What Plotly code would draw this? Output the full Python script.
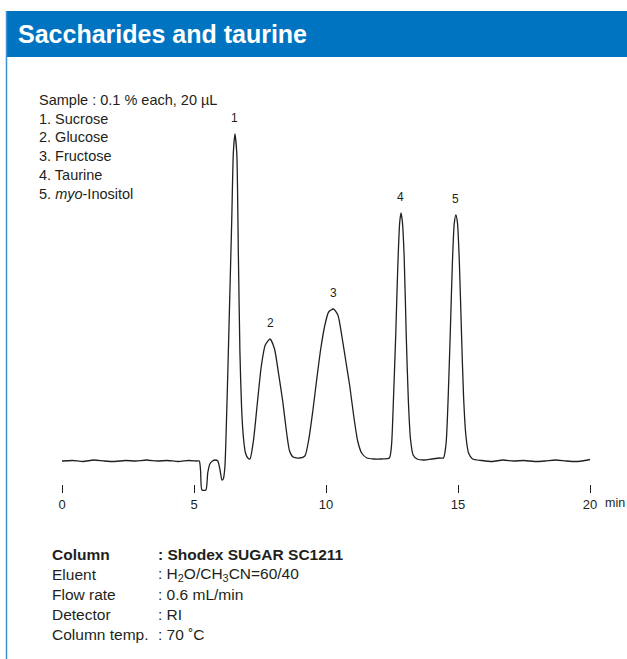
import plotly.graph_objects as go

# Chromatogram: time (min) and detector signal (arbitrary units)
time_min = [
    0.0, 0.4, 0.8, 1.2, 1.6, 2.0, 2.4, 2.8, 3.2, 3.6, 4.0, 4.4, 4.8, 5.1,
    5.2, 5.25, 5.3, 5.45, 5.52, 5.6, 5.7, 5.8, 5.9, 5.98, 6.06, 6.11,
    6.17, 6.23, 6.30, 6.37, 6.43, 6.49, 6.55, 6.62, 6.68, 6.74, 6.80, 6.87, 6.95, 7.04, 7.12,
    7.25, 7.40, 7.55, 7.70, 7.88, 8.05, 8.20, 8.36, 8.50, 8.62, 8.75, 9.00, 9.20,
    9.35, 9.50, 9.65, 9.80, 9.95, 10.10, 10.28, 10.45, 10.60, 10.75, 10.90, 11.05, 11.20, 11.35,
    11.55, 11.80, 12.10, 12.40,
    12.48, 12.56, 12.64, 12.72, 12.79, 12.84, 12.89, 12.96, 13.04, 13.12, 13.20, 13.30,
    13.45, 13.70, 14.00, 14.30, 14.45,
    14.55, 14.63, 14.71, 14.79, 14.86, 14.92, 14.98, 15.05, 15.13, 15.21, 15.30, 15.40,
    15.55, 15.9, 16.3, 16.7, 17.1, 17.5, 17.9, 18.3, 18.7, 19.1, 19.5, 19.8, 20.0,
]
signal = [
    0, 0.5, -0.5, 1, 0, -0.5, 0.5, 0, 1, 0, 0.5, -0.5, 0.5, 0,
    0, -10, -29, -29, -12, -3, 0, 1, 0, -8, -19, -18,
    -6, 40, 108, 180, 241, 308, 327, 308, 208, 108, 55, 24, 8, 3, 2,
    20, 58, 95, 116, 122, 112, 88, 60, 30, 10, 4, 3, 5,
    22, 50, 82, 112, 135, 149, 152, 146, 125, 100, 75, 45, 20, 8,
    3, 2, 2, 3,
    15, 65, 125, 195, 238, 248, 240, 205, 125, 60, 22, 6,
    2, 1, 2, 3, 3,
    18, 65, 130, 200, 238, 246, 238, 200, 130, 65, 25, 8,
    2, 0.5, -0.5, 1, 0, 0.5, -0.5, 0, 1, 0, -0.5, 0.5, 1.5,
]

peak_ids = ["1", "2", "3", "4", "5"]
peak_times = [6.55, 7.88, 10.28, 12.84, 14.92]
peak_heights = [327, 122, 152, 248, 246]

x_ticks = [0, 5, 10, 15, 20]

sample_lines = [
    "Sample : 0.1 % each, 20 µL",
    "1. Sucrose",
    "2. Glucose",
    "3. Fructose",
    "4. Taurine",
    "5. <i>myo</i>-Inositol",
]
cond_names = ["<b>Column</b>", "Eluent", "Flow rate", "Detector", "Column temp."]
cond_values = [
    "<b>: Shodex SUGAR SC1211</b>",
    ": H<sub>2</sub>O/CH<sub>3</sub>CN=60/40",
    ": 0.6 mL/min",
    ": RI",
    ": 70 ˚C",
]

W, H = 627, 659
INK = "#231f20"
BLUE = "#0074c1"
FONT = "Liberation Sans, Arial, Helvetica, sans-serif"


def px(x):
    return x / W


def py(y):
    return (H - y) / H


fig = go.Figure()
fig.add_trace(go.Scatter(
    x=time_min, y=signal, mode="lines",
    line=dict(color=INK, width=1.3, shape="spline", smoothing=0.6),
    hoverinfo="x+y", showlegend=False,
))

annotations = []
for pid, t, h in zip(peak_ids, peak_times, peak_heights):
    annotations.append(dict(x=t, y=h, xref="x", yref="y", text=pid, showarrow=False,
                            yanchor="bottom", yshift=7, font=dict(size=12, color=INK)))

for i, line in enumerate(sample_lines):
    annotations.append(dict(x=px(37), y=py(100 + i * 18.7), xref="paper", yref="paper",
                            text=line, showarrow=False, xanchor="left", yanchor="middle",
                            font=dict(size=14.5, color=INK)))

for i, (name, val) in enumerate(zip(cond_names, cond_values)):
    yy = py(554 + i * 20.2)
    annotations.append(dict(x=px(50), y=yy, xref="paper", yref="paper", text=name,
                            showarrow=False, xanchor="left", yanchor="middle",
                            font=dict(size=15.5, color=INK)))
    annotations.append(dict(x=px(156), y=yy, xref="paper", yref="paper", text=val,
                            showarrow=False, xanchor="left", yanchor="middle",
                            font=dict(size=15.5, color=INK)))

# "min" unit after the last tick label
annotations.append(dict(x=px(603), y=py(503), xref="paper", yref="paper", text="min",
                        showarrow=False, xanchor="left", yanchor="middle",
                        font=dict(size=12.5, color=INK)))

# header title
annotations.append(dict(x=px(16), y=py(34), xref="paper", yref="paper",
                        text="<b>Saccharides and taurine</b>", showarrow=False,
                        xanchor="left", yanchor="middle",
                        font=dict(size=25, color="white", family="Liberation Sans, Arial")))

shapes = [
    # blue header band
    dict(type="rect", xref="paper", yref="paper", x0=px(6), x1=1, y0=py(57), y1=py(11),
         fillcolor=BLUE, line=dict(width=0), layer="below"),
    # thin left frame line
    dict(type="line", xref="paper", yref="paper", x0=px(6.5), x1=px(6.5), y0=0, y1=py(11),
         line=dict(color="#3f8fd2", width=1.5)),
]

fig.update_layout(
    width=W, height=H,
    margin=dict(l=0, r=0, t=0, b=0, autoexpand=False),
    paper_bgcolor="white", plot_bgcolor="white",
    font=dict(family=FONT, color=INK),
    xaxis=dict(domain=[px(62), px(590)], range=[0, 20], anchor="free", position=py(484),
               showgrid=False, zeroline=False, showline=False, automargin=False,
               tickmode="array", tickvals=x_ticks, ticktext=[str(v) for v in x_ticks],
               ticks="outside", ticklen=8, tickwidth=1, tickcolor=INK,
               tickfont=dict(size=13, color=INK), fixedrange=True),
    yaxis=dict(domain=[py(500), py(110)], range=[-39, 351], visible=False, fixedrange=True,
               automargin=False),
    annotations=annotations,
    shapes=shapes,
    showlegend=False,
)

fig.write_html(
    "out.html",
    config={"responsive": False, "displayModeBar": False},
    post_script="document.body.style.margin='0';"
                "document.documentElement.style.overflow='hidden';",
)
